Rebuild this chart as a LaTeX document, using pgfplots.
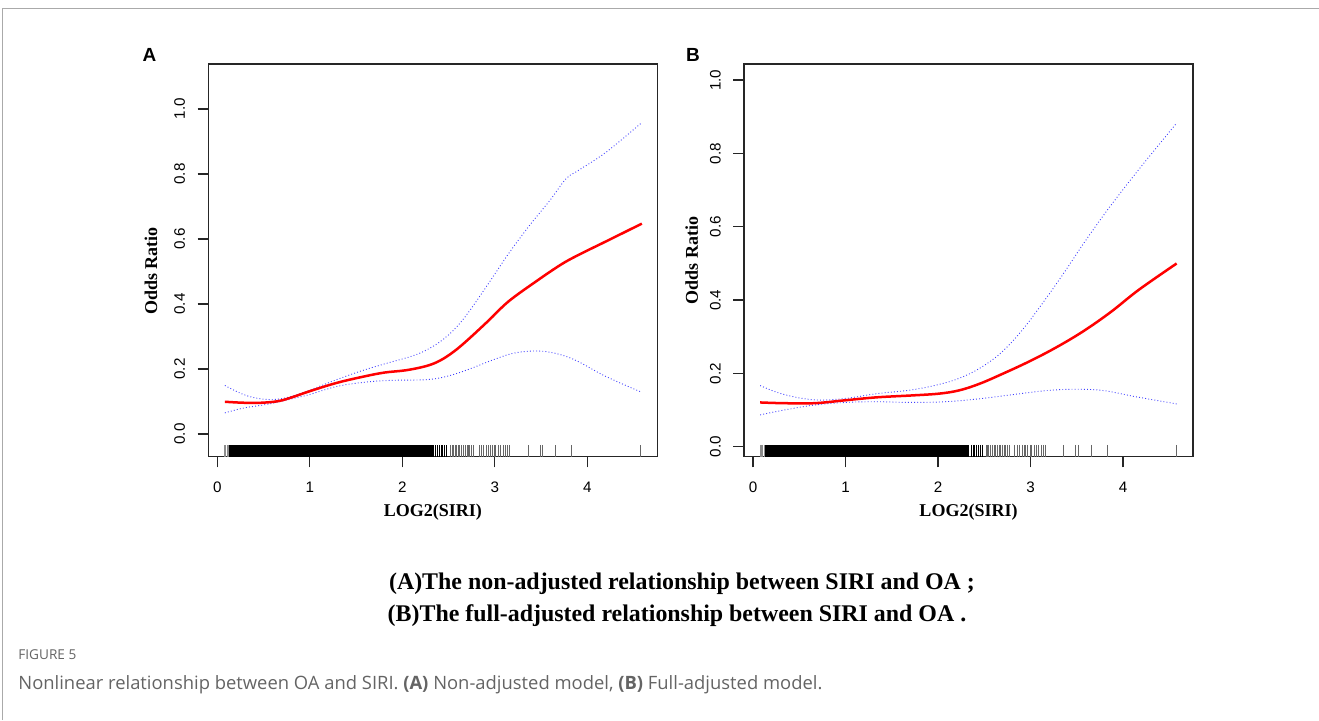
\documentclass[border=0pt]{standalone}
\usepackage{fontspec}
\setmainfont{Liberation Sans}
\newfontfamily\rserif{Liberation Serif}
\newfontfamily\opensans{Open Sans}
\usepackage{pgfplots}
\pgfplotsset{compat=1.18}
\definecolor{capgray}{RGB}{100,100,100}
\definecolor{framegray}{RGB}{170,170,170}
\newcommand\labfont{\rserif\bfseries\fontsize{9}{10}\selectfont}

\pgfplotsset{
  rplot/.style={
    scale only axis, width=224.5pt, height=196.35pt,
    anchor=south west,
    axis line style={line width=0.65pt, black!85},
    tick align=outside, major tick length=5.3pt,
    tick style={line width=0.65pt, black!85},
    xtick pos=left, ytick pos=left,
    xmin=-0.097, xmax=4.757,
    xtick={0,1,2,3,4},
    ytick={0,0.2,0.4,0.6,0.8,1.0},
    /pgf/number format/assume math mode=true,
    ticklabel style={font=\fontsize{7.6}{8}\selectfont},
    yticklabel style={rotate=90, anchor=south,
      /pgf/number format/.cd, fixed, fixed zerofill, precision=1},
    xticklabel shift=4.0pt, yticklabel shift=2.8pt,
    xlabel={LOG2(SIRI)}, ylabel={Odds Ratio},
    every axis x label/.style={at={(axis description cs:0.5,0)}, anchor=center,
      yshift=-27.6pt, font=\labfont},
    fit/.style={red, line width=1.25pt, smooth, tension=0.6},
    ci/.style={blue!75, line width=0.45pt, dash pattern=on 0.45pt off 1.1pt, smooth, tension=0.6},
    rug/.style={only marks, mark=|, mark size=2.93pt, mark options={line width=0.5pt}},
  }
}

\begin{document}
\begin{tikzpicture}
\path[use as bounding box] (0,0) rectangle (659.5pt,-360pt);

% ---------------- panel A ----------------
\begin{axis}[rplot, at={(104.15pt,-228.35pt)},
  ymin=-0.070, ymax=1.138,
  every axis y label/.style={at={(axis description cs:-0.1276,0.473)}, rotate=90,
    anchor=center, font=\labfont}]
\addplot[fill=black, draw=none] coordinates {(0.13,-0.070) (0.13,-0.034) (2.34,-0.034) (2.34,-0.070)} -- cycle;
\addplot[rug, black!45] coordinates {(0.076,-0.052) (0.094,-0.052) (0.108,-0.052) (0.12,-0.052)};
\addplot[rug, black] coordinates {
  (2.36,-0.052) (2.38,-0.052) (2.40,-0.052) (2.42,-0.052) (2.44,-0.052)
  (2.46,-0.052) (2.48,-0.052)};
\addplot[rug, black!60] coordinates {
  (2.52,-0.052) (2.54,-0.052) (2.55,-0.052) (2.57,-0.052) (2.59,-0.052) (2.61,-0.052)
  (2.62,-0.052) (2.64,-0.052) (2.66,-0.052) (2.68,-0.052) (2.70,-0.052) (2.72,-0.052)
  (2.73,-0.052) (2.75,-0.052) (2.77,-0.052)
  (2.83,-0.052) (2.86,-0.052) (2.88,-0.052) (2.91,-0.052) (2.93,-0.052) (2.95,-0.052)
  (2.97,-0.052) (3.00,-0.052) (3.01,-0.052) (3.04,-0.052) (3.06,-0.052) (3.09,-0.052)
  (3.12,-0.052) (3.14,-0.052) (3.16,-0.052)
  (3.36,-0.052) (3.49,-0.052) (3.52,-0.052) (3.66,-0.052) (3.83,-0.052) (4.58,-0.052)};
% upper CI
\addplot[ci] coordinates {
  (0.082,0.149) (0.287,0.121) (0.473,0.108) (0.66,0.107) (0.845,0.119) (0.994,0.134)
  (1.29,0.167) (1.59,0.197) (1.89,0.222) (2.11,0.240) (2.26,0.258) (2.41,0.284)
  (2.56,0.321) (2.71,0.372) (2.93,0.462) (3.15,0.555) (3.38,0.643) (3.60,0.720)
  (3.77,0.785) (3.90,0.810) (4.20,0.866) (4.59,0.958)};
% lower CI
\addplot[ci] coordinates {
  (0.082,0.065) (0.287,0.080) (0.473,0.088) (0.66,0.098) (0.845,0.111) (0.994,0.121)
  (1.29,0.146) (1.59,0.159) (1.89,0.165) (2.26,0.167) (2.48,0.177) (2.71,0.198)
  (3.01,0.231) (3.23,0.250) (3.49,0.255) (3.71,0.244) (3.90,0.223) (4.20,0.177)
  (4.59,0.128)};
% estimate
\addplot[fit] coordinates {
  (0.082,0.099) (0.287,0.096) (0.473,0.096) (0.66,0.101) (0.81,0.113) (0.994,0.131)
  (1.29,0.157) (1.59,0.177) (1.81,0.189) (2.04,0.196) (2.26,0.209) (2.41,0.226)
  (2.56,0.254) (2.71,0.290) (2.93,0.348) (3.15,0.408) (3.45,0.470) (3.71,0.520)
  (3.90,0.550) (4.20,0.592) (4.59,0.647)};
\end{axis}

% ---------------- panel B ----------------
\begin{axis}[rplot, at={(372pt,-228.35pt)},
  ymin=-0.027, ymax=1.044,
  every axis y label/.style={at={(axis description cs:-0.1165,0.5)}, rotate=90,
    anchor=center, font=\labfont}]
\addplot[fill=black, draw=none] coordinates {(0.13,-0.027) (0.13,0.005) (2.34,0.005) (2.34,-0.027)} -- cycle;
\addplot[rug, black!45] coordinates {(0.076,-0.011) (0.094,-0.011) (0.108,-0.011) (0.12,-0.011)};
\addplot[rug, black] coordinates {
  (2.36,-0.011) (2.38,-0.011) (2.40,-0.011) (2.42,-0.011) (2.44,-0.011)
  (2.46,-0.011) (2.48,-0.011)};
\addplot[rug, black!60] coordinates {
  (2.52,-0.011) (2.54,-0.011) (2.55,-0.011) (2.57,-0.011) (2.59,-0.011) (2.61,-0.011)
  (2.62,-0.011) (2.64,-0.011) (2.66,-0.011) (2.68,-0.011) (2.70,-0.011) (2.72,-0.011)
  (2.73,-0.011) (2.75,-0.011) (2.77,-0.011)
  (2.83,-0.011) (2.86,-0.011) (2.88,-0.011) (2.91,-0.011) (2.93,-0.011) (2.95,-0.011)
  (2.97,-0.011) (3.00,-0.011) (3.01,-0.011) (3.04,-0.011) (3.06,-0.011) (3.09,-0.011)
  (3.12,-0.011) (3.14,-0.011) (3.16,-0.011)
  (3.36,-0.011) (3.49,-0.011) (3.52,-0.011) (3.66,-0.011) (3.83,-0.011) (4.58,-0.011)};
\addplot[ci] coordinates {
  (0.078,0.167) (0.33,0.143) (0.667,0.128) (1.0,0.132) (1.34,0.145) (1.71,0.155)
  (2.01,0.170) (2.23,0.187) (2.45,0.214) (2.68,0.256) (2.90,0.315) (3.12,0.388)
  (3.35,0.470) (3.57,0.553) (3.80,0.635) (4.02,0.708) (4.24,0.778) (4.58,0.883)};
\addplot[ci] coordinates {
  (0.078,0.087) (0.33,0.100) (0.667,0.114) (1.0,0.121) (1.34,0.123) (1.71,0.121)
  (2.08,0.123) (2.45,0.131) (2.83,0.143) (3.20,0.154) (3.53,0.157) (3.80,0.153)
  (4.13,0.137) (4.58,0.117)};
\addplot[fit] coordinates {
  (0.078,0.121) (0.33,0.119) (0.667,0.119) (1.0,0.127) (1.34,0.135) (1.71,0.140)
  (2.01,0.145) (2.23,0.154) (2.45,0.172) (2.68,0.197) (2.98,0.232) (3.27,0.270)
  (3.57,0.315) (3.87,0.368) (4.17,0.428) (4.58,0.500)};
\end{axis}

% ---------------- text and frame (pixel coordinates) ----------------
\begin{scope}[x=0.5pt, y=-0.5pt]
\draw[framegray, line width=0.6pt] (2.5,720) -- (2.5,8.3) -- (1319,8.3);
\node[font=\bfseries\fontsize{9.5}{10}\selectfont] at (149.5,55.3) {A};
\node[font=\bfseries\fontsize{9.5}{10}\selectfont] at (693,55.3) {B};
\node[font=\rserif\bfseries\fontsize{11.95}{14}\selectfont] at (682,584) {(A)The non-adjusted relationship between SIRI and OA ;};
\node[font=\rserif\bfseries\fontsize{11.95}{14}\selectfont] at (677,616) {(B)The full-adjusted relationship between SIRI and OA .};
\node[font=\opensans\fontsize{6.8}{8}\selectfont, text=capgray, anchor=west, inner sep=0pt] at (18,655) {FIGURE 5};
\node[font=\opensans\fontsize{9.2}{11}\selectfont, text=capgray, anchor=west, inner sep=0pt] at (18,685)
  {Nonlinear relationship between OA and SIRI. \textbf{(A)} Non-adjusted model, \textbf{(B)} Full-adjusted model.};
\end{scope}
\end{tikzpicture}
\end{document}
